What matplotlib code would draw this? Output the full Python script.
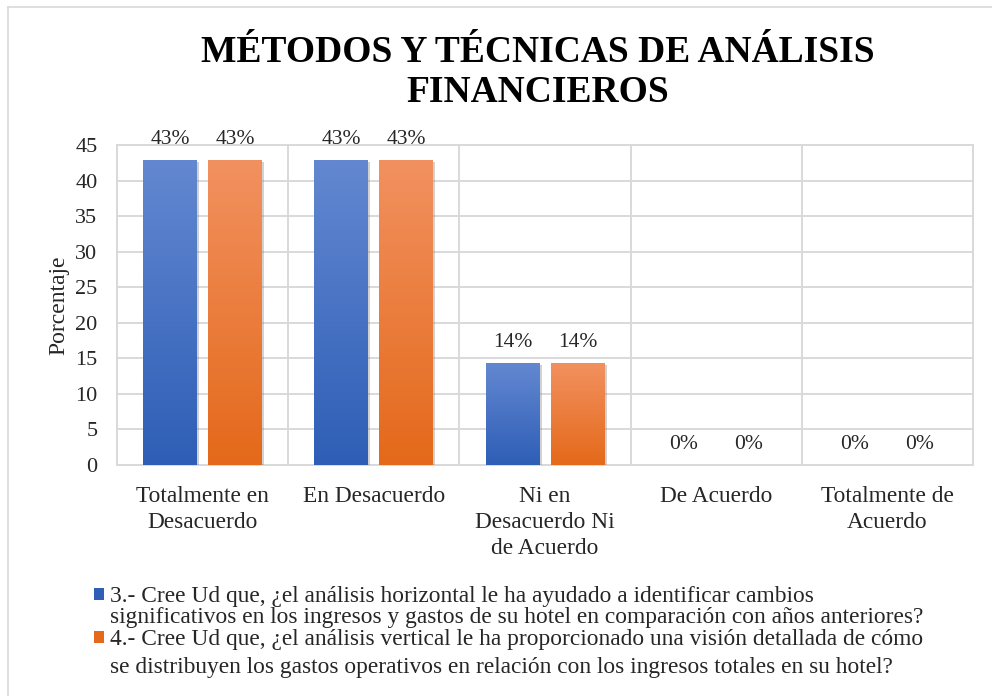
import matplotlib
matplotlib.use("Agg")
import matplotlib.pyplot as plt
import numpy as np
from matplotlib.colors import LinearSegmentedColormap
from matplotlib.patches import Rectangle
from matplotlib.lines import Line2D
import matplotlib.patheffects as pe

# ---------------- data ----------------
categories = ["Totalmente en\nDesacuerdo", "En Desacuerdo",
              "Ni en\nDesacuerdo Ni\nde Acuerdo", "De Acuerdo",
              "Totalmente de\nAcuerdo"]
serie_3 = [42.86, 42.86, 14.29, 0, 0]
serie_4 = [42.86, 42.86, 14.29, 0, 0]
yticks = [0, 5, 10, 15, 20, 25, 30, 35, 40, 45]
title_lines = ["MÉTODOS Y TÉCNICAS DE ANÁLISIS", "FINANCIEROS"]
ylabel = "Porcentaje"
legend_labels = [
    "3.- Cree Ud que, ¿el análisis horizontal le ha ayudado a identificar cambios\n"
    "significativos en los ingresos y gastos de su hotel en comparación con años anteriores?",
    "4.- Cree Ud que, ¿el análisis vertical le ha proporcionado una visión detallada de cómo\n"
    "se distribuyen los gastos operativos en relación con los ingresos totales en su hotel?",
]

# ---------------- style ----------------
FONT = "Liberation Serif"
plt.rcParams["font.family"] = [FONT, "DejaVu Serif"]
BLUE_TOP, BLUE_BOT = "#6388d1", "#2e5eb6"
ORANGE_TOP, ORANGE_BOT = "#f29160", "#e4691a"
GRID = "#d9d9d9"
TXT = "#262626"
W, H = 992, 696

fig = plt.figure(figsize=(W / 100, H / 100), dpi=100)
L, R, T, B = 117, 973, 145, 465
ax = fig.add_axes([L / W, 1 - B / H, (R - L) / W, (B - T) / H])

x = np.arange(len(categories))
bw = 0.315
off = 0.19

bars3 = ax.bar(x - off, serie_3, width=bw, color=BLUE_BOT, zorder=3)
bars4 = ax.bar(x + off, serie_4, width=bw, color=ORANGE_BOT, zorder=3)

shadow = [pe.SimplePatchShadow(offset=(1.5, -1.5), shadow_rgbFace="#7f7f7f", alpha=0.35), pe.Normal()]


def gradient(bars, top, bot):
    cmap = LinearSegmentedColormap.from_list("g", [bot, top])
    grad = np.linspace(0, 1, 256).reshape(-1, 1)
    for b in bars:
        h = b.get_height()
        if h <= 0:
            b.set_visible(False)
            continue
        b.set_path_effects(shadow)
        im = ax.imshow(grad, extent=[b.get_x(), b.get_x() + b.get_width(), 0, h],
                       origin="lower", aspect="auto", cmap=cmap, zorder=3.5,
                       interpolation="bilinear")
        im.set_clip_path(b)


gradient(bars3, BLUE_TOP, BLUE_BOT)
gradient(bars4, ORANGE_TOP, ORANGE_BOT)

# data labels
for bars, vals in ((bars3, serie_3), (bars4, serie_4)):
    for b, v in zip(bars, vals):
        ax.annotate(f"{round(v)}%", (b.get_x() + b.get_width() / 2, v),
                    xytext=(0, 11.5), textcoords="offset points",
                    ha="center", va="baseline", fontsize=15.5,
                    color=TXT, annotation_clip=False, zorder=5)

ax.set_xlim(-0.5, len(categories) - 0.5)
ax.set_ylim(0, 45)
ax.set_yticks(yticks)
ax.set_xticks(x)
ax.set_xticklabels(categories, fontsize=16.8, linespacing=1.32)
ax.set_xticks(np.arange(len(categories) + 1) - 0.5, minor=True)
ax.tick_params(axis="both", which="both", length=0, colors=TXT)
ax.tick_params(axis="y", pad=14, labelsize=16)
ax.tick_params(axis="x", pad=15)
ax.grid(axis="y", which="major", color=GRID, lw=1.4, zorder=0)
ax.grid(axis="x", which="minor", color=GRID, lw=1.4, zorder=0)
for s in ax.spines.values():
    s.set_color(GRID)
    s.set_linewidth(1.4)

ax.set_ylabel(ylabel, fontsize=17, color=TXT)
ax.yaxis.set_label_coords(-0.056, 0.5)

# title
for line, yb in zip(title_lines, (62, 102)):
    fig.text(538 / W, 1 - yb / H, line, ha="center", va="baseline",
             fontsize=27, fontweight="bold", color="black")

# legend (manual, Excel-like)
leg_colors = [BLUE_BOT, ORANGE_BOT]
leg_baselines = [(602, 623), (645, 673)]
for lab, col, ybs in zip(legend_labels, leg_colors, leg_baselines):
    lines = lab.split("\n")
    for ln, yb in zip(lines, ybs):
        fig.text(110 / W, 1 - yb / H, ln, ha="left", va="baseline",
                 fontsize=16.8, color=TXT)
    fig.add_artist(Rectangle((94 / W, 1 - (ybs[0] - 2) / H), 10 / W, 12 / H,
                             transform=fig.transFigure, facecolor=col,
                             edgecolor="none"))

# outer chart frame (top and left edges visible)
fig.add_artist(Line2D([8 / W, 1.0], [1 - 7 / H, 1 - 7 / H], transform=fig.transFigure,
                      color=GRID, lw=1.2))
fig.add_artist(Line2D([8 / W, 8 / W], [0.0, 1 - 7 / H], transform=fig.transFigure,
                      color=GRID, lw=1.2))

fig.savefig("out.png", dpi=100)
